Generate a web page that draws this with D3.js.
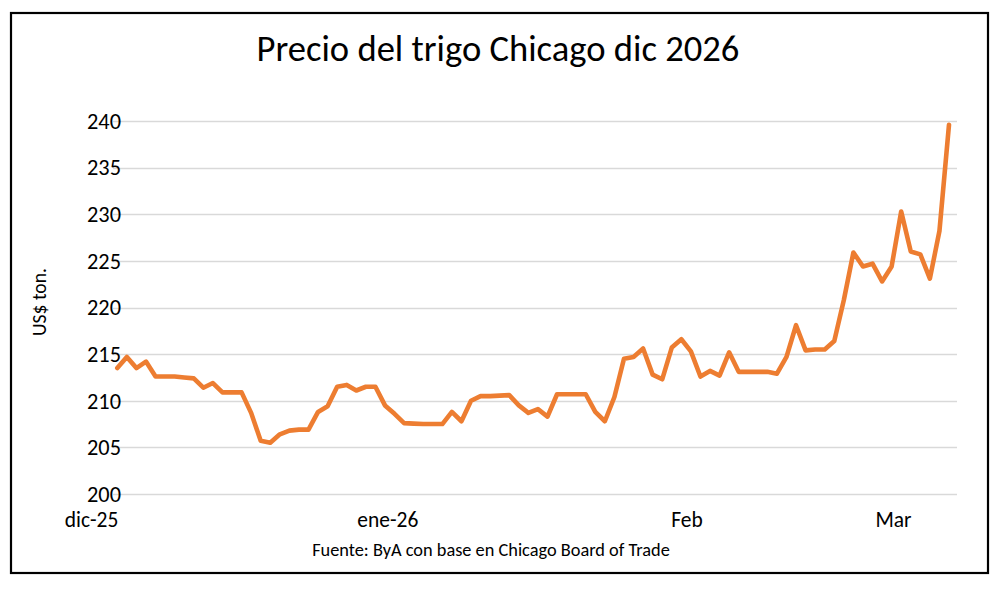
<!DOCTYPE html>
<html><head><meta charset="utf-8">
<script src="https://cdn.jsdelivr.net/npm/d3@7"></script>
<style>
html,body{margin:0;padding:0;background:#fff;}
svg{display:block;}
text{font-family:Carlito,Calibri,Lato,"Open Sans",sans-serif;fill:#000;}
</style></head>
<body>
<svg id="chart" width="1000" height="590"></svg>
<script>
const title = "Precio del trigo Chicago dic 2026";
const yAxisTitle = "US$ ton.";
const source = "Fuente: ByA con base en Chicago Board of Trade";
const prices = [
213.5,214.7,213.5,214.2,212.6,212.6,212.6,212.5,212.4,211.4,
211.9,210.9,210.9,210.9,208.7,205.7,205.5,206.4,206.8,206.9,
206.9,208.8,209.4,211.5,211.7,211.1,211.5,211.5,209.5,208.6,
207.6,207.55,207.5,207.5,207.5,208.8,207.8,210.0,210.5,210.5,
210.55,210.6,209.5,208.7,209.1,208.3,210.7,210.7,210.7,210.7,
208.8,207.8,210.4,214.5,214.7,215.6,212.8,212.3,215.7,216.6,
215.3,212.6,213.2,212.7,215.2,213.1,213.1,213.1,213.1,212.9,
214.7,218.1,215.4,215.5,215.5,216.4,220.8,225.9,224.4,224.7,
222.8,224.4,230.3,226.0,225.7,223.1,228.2,239.6
];
const yTicks = [200,205,210,215,220,225,230,235,240];
const xTickLabels = ["dic-25","ene-26","Feb","Mar"];
const xTickIndex = [-2.7, 28.3, 59.6, 81.2];

const svg = d3.select("#chart");

// frame
svg.append("rect").attr("x",11).attr("y",13).attr("width",977).attr("height",560)
  .attr("fill","#fff").attr("stroke","#000").attr("stroke-width",2.2);

const x = d3.scaleLinear().domain([0, prices.length-1]).range([117.3, 949]);
const y = d3.scaleLinear().domain([200,240]).range([494,121]);

const gridX0 = 113, gridX1 = 957;

// gridlines
svg.append("g").selectAll("line").data(yTicks).join("line")
  .attr("x1",gridX0).attr("x2",gridX1)
  .attr("y1",d=>Math.round(y(d))+0.5).attr("y2",d=>Math.round(y(d))+0.5)
  .attr("stroke","#d9d9d9").attr("stroke-width",1.3);

function fit(sel, targetW, startSize){
  sel.attr("font-size", startSize);
  const w = sel.node().getComputedTextLength();
  sel.attr("font-size", startSize*targetW/w);
}

// y tick labels
const yl = svg.append("g").selectAll("text").data(yTicks).join("text")
  .attr("x",121).attr("y",d=>y(d)).attr("dy","0.35em")
  .attr("text-anchor","end").text(d=>d);
fit(yl.filter((d,i)=>i===0), 34, 18);
yl.attr("font-size", yl.filter((d,i)=>i===0).attr("font-size"));

// x tick labels
const xl = svg.append("g").selectAll("text").data(xTickLabels).join("text")
  .attr("x",(d,i)=>x(xTickIndex[i])).attr("y",527)
  .attr("text-anchor","middle").text(d=>d);
fit(xl.filter((d,i)=>i===1), 61, 18);
xl.attr("font-size", xl.filter((d,i)=>i===1).attr("font-size"));

// line
svg.append("path").datum(prices)
  .attr("fill","none").attr("stroke","#ED7D31").attr("stroke-width",4.6)
  .attr("stroke-linejoin","round").attr("stroke-linecap","round")
  .attr("d", d3.line().x((d,i)=>x(i)).y(d=>y(d)));

// title
const t = svg.append("text").attr("x",498).attr("y",61).attr("text-anchor","middle").text(title);
fit(t, 483, 30);

// y axis title
const yt = svg.append("text").attr("transform","translate(46,302) rotate(-90)")
  .attr("text-anchor","middle").text(yAxisTitle);
fit(yt, 68, 17);

// source
const s = svg.append("text").attr("x",491).attr("y",556).attr("text-anchor","middle").text(source);
fit(s, 358, 15);
</script>
</body></html>
